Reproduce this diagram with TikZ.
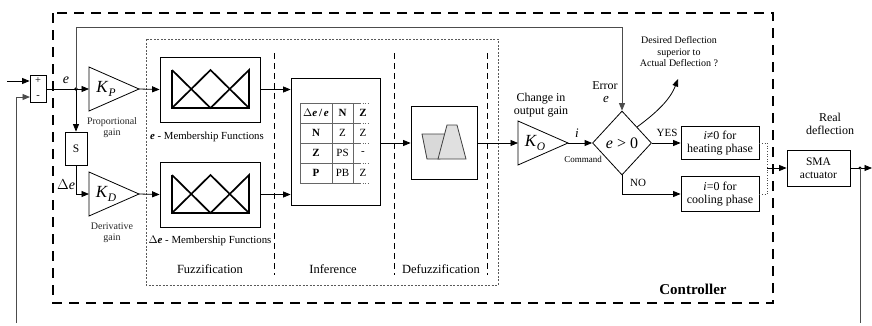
\documentclass[tikz,border=0pt]{standalone}
\usepackage{fontspec}
\setmainfont{Liberation Serif}
\usetikzlibrary{arrows.meta,shapes.geometric}

\newcommand{\fs}[1]{\fontsize{#1}{#1}\selectfont}

\begin{document}
\begin{tikzpicture}[x=1pt,y=-1pt,line width=0.8pt,
  >={Triangle[length=7.5pt,width=6pt]},
  box/.style={draw,rectangle,inner sep=0pt,line width=0.8pt},
  lbl/.style={inner sep=0pt,align=center},
  fb/.style={draw=black!70,line width=0.9pt},
  ctrl/.style={line width=1.7pt,dash pattern=on 10pt off 7pt},
  sep/.style={line width=0.8pt,dash pattern=on 6pt off 4pt},
  fz/.style={draw=black!65,line width=0.6pt,dash pattern=on 2pt off 1.5pt},
  grid/.style={draw=black!60,line width=0.8pt},
  mf/.pic={
    \draw[line width=1.7pt,line join=miter]
      (-38.5,-19) -- (0,19) -- (38.5,-19) -- (38.5,19) -- (-38.5,19) -- (-38.5,-19);
    \draw[line width=1.7pt] (-38.5,19) -- (0,-19) -- (38.5,19);
  }]
\useasboundingbox (0,0) rectangle (872,325);

% controller frame and fuzzy logic block
\draw[ctrl] (53,13) rectangle (773,303);
\draw[fz] (146,39) rectangle (498,285);
\draw[sep] (274,53) -- (274,275);
\draw[sep] (394,53) -- (394,275);
\draw[sep] (487,53) -- (487,275);

% summing junction
\node[box,minimum width=16pt,minimum height=27pt] (sum) at (38,89) {};
\node[lbl,font=\fs{10.5}] (plus) at (38,81) {+};
\node[lbl,font=\fs{10.5}] (minus) at (38,97) {-};
\coordinate (in0) at (7,81);
\coordinate (fbL) at (16,323);
\coordinate (sumneg) at (30,97);
\draw[->] (in0) -- (sum.west |- in0);
\draw[->,fb] (fbL) |- (sumneg);

% error branch point
\coordinate (ej) at (76,89);
\draw (sum.east |- ej) -- (ej);
\fill (ej) circle (1.8pt);
\node[lbl,font=\fs{14}\itshape] (elab) at (66,80) {e};

% derivative block
\node[box,minimum width=22pt,minimum height=33pt,font=\fs{11.5}] (S) at (76,148.5) {S};
\node[lbl,font=\fs{14}] (delab) at (66,185) {$\Delta$\textit{e}};

% gains
\coordinate (kpin) at (89,89);
\coordinate (kpout) at (139,89);
\draw (89,67) -- (kpout) -- (89,111) -- cycle;
\node[lbl,font=\fs{17}] (kp) at (106,89) {\textit{K}\raisebox{-0.45ex}{\fs{11.5}\textit{P}}};
\node[lbl,font=\fs{10},color=black!85] (kplab) at (112,128) {Proportional\\[1pt]gain};

\coordinate (kdin) at (89,194);
\coordinate (kdout) at (139,194);
\draw (89,172) -- (kdout) -- (89,216) -- cycle;
\node[lbl,font=\fs{17}] (kd) at (106,194) {\textit{K}\raisebox{-0.45ex}{\fs{11.5}\textit{D}}};
\node[lbl,font=\fs{10},color=black!85] (kdlab) at (112,233) {Derivative\\[1pt]gain};

% membership functions
\node[box,minimum width=100pt,minimum height=65pt] (mfe) at (210,89.5) {};
\pic at (210.5,89) {mf};
\node[lbl,font=\fs{10.8}] (mfelab) at (207,137) {\textbf{\textit{e}} - Membership Functions};
\node[box,minimum width=100pt,minimum height=65pt] (mfd) at (210,194.5) {};
\pic at (210.5,194) {mf};
\node[lbl,font=\fs{10.8}] (mfdlab) at (210,241) {\textbf{$\Delta$\textit{e}} - Membership Functions};
\node[lbl,font=\fs{12.5}] (fuzlab) at (210,269) {Fuzzification};

% inference with rule table
\node[box,minimum width=89pt,minimum height=127pt] (inf) at (335.5,141.5) {};
\foreach \yy in {103,123,143,163,183}{
  \draw[grid] (300,\yy) -- (360,\yy);
  \draw[draw=black!60,line width=0.6pt,dotted] (360,\yy) -- (370,\yy);
}
\draw[grid] (300,103) -- (300,183);
\draw[grid] (332,103) -- (332,183);
\draw[grid] (353,103) -- (353,183);
\begin{scope}[every node/.style={lbl,font=\fs{11}}]
  \node (h0) at (316,113) {\textbf{$\Delta$\textit{e}\,/\,\textit{e}}};
  \node (h1) at (342.5,113) {\textbf{N}};
  \node (h2) at (363,113) {\textbf{Z}};
  \node (r1) at (316,133) {\textbf{N}};
  \node (c11) at (342.5,133) {Z};
  \node (c12) at (363,133) {Z};
  \node (r2) at (316,153) {\textbf{Z}};
  \node (c21) at (342.5,153) {PS};
  \node (c22) at (363,153) {-};
  \node (r3) at (316,173) {\textbf{P}};
  \node (c31) at (342.5,173) {PB};
  \node (c32) at (363,173) {Z};
\end{scope}
\node[lbl,font=\fs{12.5}] (inflab) at (333,269) {Inference};

% defuzzification
\node[box,minimum width=66pt,minimum height=73pt] (defz) at (444,143) {};
\draw[draw=black!75,fill=black!15,line width=0.8pt]
  (422,134) -- (446,134) -- (440,159) -- (427,159) -- cycle;
\draw[draw=black!75,fill=black!12,line width=0.8pt]
  (447,125) -- (457,125) -- (466,159) -- (438,159) -- cycle;
\node[lbl,font=\fs{12.5}] (deflab) at (441,269) {Defuzzification};

% output gain
\coordinate (koin) at (518,143);
\coordinate (koout) at (568,143);
\draw (518,121) -- (koout) -- (518,165) -- cycle;
\node[lbl,font=\fs{17}] (ko) at (535,143) {\textit{K}\raisebox{-0.45ex}{\fs{11.5}\textit{O}}};
\node[lbl,font=\fs{12}] (kolab) at (541,105) {Change in\\[1pt]output gain};

% decision
\node[draw,diamond,minimum width=59pt,minimum height=64pt,inner sep=0pt,font=\fs{16}] (dia) at (622,143) {\textit{e} > 0};
\node[lbl,font=\fs{13}\itshape] (ilab) at (577,133) {i};
\node[lbl,font=\fs{9}] (cmd) at (583,159) {Command};
\node[lbl,font=\fs{12}] (err) at (605,86) {Error};
\node[lbl,font=\fs{13}\itshape] (err2) at (606,99) {e};
\node[lbl,font=\fs{10}] (q) at (679,52) {Desired Deflection\\[1.5pt]superior to\\[1.5pt]Actual Deflection ?};
\coordinate (qs) at (637,127);
\coordinate (qe) at (678,79);
\draw[->] (qs) .. controls (656,113) and (670,100) .. (qe);

% phase commands
\node[box,minimum width=78pt,minimum height=33pt,font=\fs{12},align=center] (heat) at (720,143) {\textit{i}≠0 for\\[1pt]heating phase};
\node[box,minimum width=78pt,minimum height=35pt,font=\fs{12},align=center] (cool) at (720,194) {\textit{i}=0 for\\[1pt]cooling phase};
\node[lbl,font=\fs{11}] (yes) at (667,133) {YES};
\node[lbl,font=\fs{11}] (no) at (638,183) {NO};

% actuator
\node[box,minimum width=63pt,minimum height=36pt,font=\fs{11.5},align=center] (sma) at (818.5,168) {SMA\\[1pt]actuator};
\node[lbl,font=\fs{12}] (real) at (830,124) {Real\\[1pt]deflection};
\coordinate (sw) at (767,168);
\coordinate (oj) at (860,168);
\coordinate (outp) at (872,168);
\coordinate (fbR) at (860,323);

% connections
\draw[->] (ej) -- (kpin);
\draw[->] (kpout) -- (mfe.west);
\draw[->] (mfe.east) -- (inf.west |- mfe.east);
\draw[->] (ej) -- (S.north);
\draw[->] (S.south) |- (kdin);
\draw[->] (kdout) -- (mfd.west);
\draw[->] (mfd.east) -- (inf.west |- mfd.east);
\draw[->] (inf.east |- defz.west) -- (defz.west);
\draw[->] (defz.east) -- (koin);
\draw[->] (koout) -- (dia.west);
\draw[->,fb] (ej) -- (76,27) -| (dia.north);
\draw[->] (dia.east) -- (heat.west);
\draw[->] (dia.south) |- (cool.west);
\draw[black!70,line width=0.6pt,dotted] (heat.east) -| (sw);
\draw[black!70,line width=0.6pt,dotted] (cool.east) -| (sw);
\draw[->] (sw) -- (sma.west);
\draw (sma.east) -- (oj);
\draw[->] (oj) -- (outp);
\fill (oj) circle (1.6pt);
\draw[fb] (oj) -- (fbR);

\node[lbl,font=\fs{15}\bfseries] (ctrllab) at (693,289) {Controller};
\end{tikzpicture}
\end{document}
